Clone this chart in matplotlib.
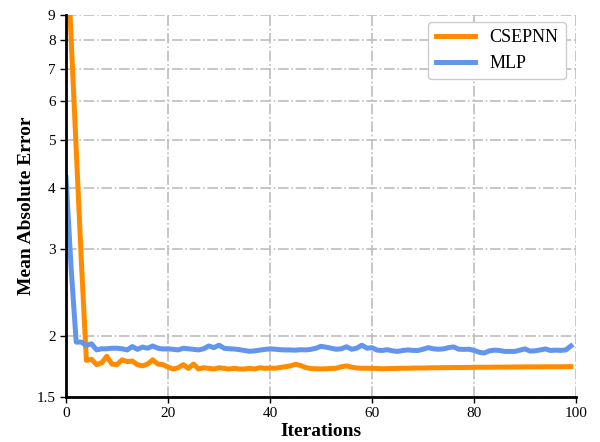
import matplotlib
matplotlib.use("Agg")
import matplotlib.pyplot as plt
from matplotlib.ticker import FixedLocator, FixedFormatter, NullLocator

plt.rcParams["font.family"] = ["Liberation Serif", "DejaVu Serif"]

# mean absolute error per iteration
iterations = list(range(100))

csepnn = [
    13.5, 8.1, 4.8, 2.85, 1.78, 1.79, 1.745, 1.76, 1.815, 1.75,
    1.745, 1.785, 1.77, 1.775, 1.745, 1.735, 1.75, 1.785, 1.75, 1.745,
    1.725, 1.71, 1.72, 1.745, 1.715, 1.75, 1.71, 1.72, 1.715, 1.71,
    1.72, 1.715, 1.71, 1.715, 1.71, 1.71, 1.715, 1.71, 1.72, 1.715,
    1.718, 1.716, 1.722, 1.728, 1.735, 1.748, 1.738, 1.722, 1.713, 1.712,
    1.711, 1.712, 1.714, 1.716, 1.728, 1.735, 1.725, 1.718, 1.716, 1.716,
    1.716, 1.714, 1.712, 1.713, 1.714, 1.715, 1.716, 1.716, 1.717, 1.718,
    1.718, 1.719, 1.72, 1.72, 1.721, 1.721, 1.722, 1.722, 1.722, 1.723,
    1.723, 1.724, 1.724, 1.724, 1.725, 1.725, 1.725, 1.726, 1.726, 1.726,
    1.727, 1.727, 1.727, 1.727, 1.728, 1.728, 1.728, 1.728, 1.729, 1.729,
]

mlp = [
    4.2, 2.75, 1.94, 1.94, 1.91, 1.925, 1.87, 1.88, 1.88, 1.885,
    1.885, 1.88, 1.87, 1.90, 1.875, 1.895, 1.885, 1.905, 1.885, 1.878,
    1.88, 1.875, 1.87, 1.885, 1.88, 1.875, 1.87, 1.88, 1.905, 1.89,
    1.912, 1.885, 1.88, 1.878, 1.872, 1.865, 1.858, 1.862, 1.868, 1.875,
    1.879, 1.876, 1.872, 1.870, 1.870, 1.868, 1.872, 1.870, 1.875, 1.885,
    1.902, 1.894, 1.885, 1.876, 1.880, 1.898, 1.876, 1.885, 1.912, 1.885,
    1.890, 1.868, 1.865, 1.872, 1.862, 1.857, 1.865, 1.870, 1.866, 1.865,
    1.876, 1.890, 1.880, 1.876, 1.879, 1.890, 1.897, 1.876, 1.875, 1.876,
    1.866, 1.850, 1.843, 1.862, 1.868, 1.865, 1.857, 1.857, 1.857, 1.868,
    1.879, 1.860, 1.862, 1.870, 1.879, 1.865, 1.868, 1.866, 1.870, 1.905,
]

y_ticks = [1.5, 2, 3, 4, 5, 6, 7, 8, 9]
y_tick_labels = ["1.5", "2", "3", "4", "5", "6", "7", "8", "9"]
x_ticks = [0, 20, 40, 60, 80, 100]

fig = plt.figure(figsize=(6, 4.42), dpi=100)
ax = fig.add_axes([0.11, 0.102, 0.85, 0.864])

ax.plot(iterations, csepnn, color="darkorange", lw=3.6, label="CSEPNN")
ax.plot(iterations, mlp, color="cornflowerblue", lw=3.6, label="MLP")

ax.set_yscale("log")
ax.set_xlim(0, 100)
ax.set_ylim(1.5, 9)
ax.yaxis.set_major_locator(FixedLocator(y_ticks))
ax.yaxis.set_major_formatter(FixedFormatter(y_tick_labels))
ax.yaxis.set_minor_locator(NullLocator())
ax.set_xticks(x_ticks)
ax.tick_params(labelsize=11, length=4, width=1, direction="out")

ax.grid(True, which="major", color="#bdbdbd", linestyle="-.", linewidth=1.2)

for side in ("top", "right"):
    ax.spines[side].set_visible(False)
for side in ("left", "bottom"):
    ax.spines[side].set_linewidth(2)
    ax.spines[side].set_color("black")

ax.set_xlabel("Iterations", fontsize=14, fontweight="bold", labelpad=2)
ax.set_ylabel("Mean Absolute Error", fontsize=14, fontweight="bold", labelpad=1)

ax.legend(loc="upper right", fontsize=13, handlelength=2.2,
          borderpad=0.4, labelspacing=0.5, framealpha=1.0,
          edgecolor="#cccccc", fancybox=True, borderaxespad=0,
          bbox_to_anchor=(0.98, 0.982))

fig.savefig("out.png", dpi=100)
